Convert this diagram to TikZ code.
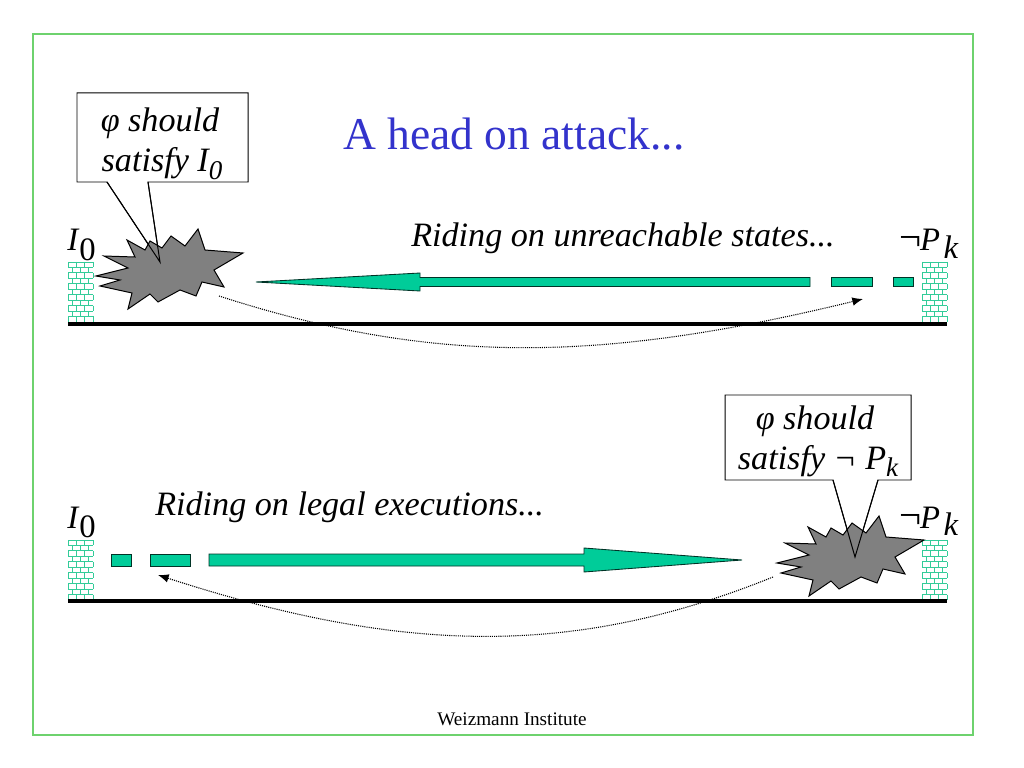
\documentclass[tikz,border=0pt]{standalone}
\usepackage{fontspec}
\setmainfont{Liberation Serif}
\usetikzlibrary{arrows.meta}
\definecolor{arrowteal}{RGB}{0,204,153}
\definecolor{brickteal}{RGB}{51,204,153}
\definecolor{framegreen}{RGB}{110,210,110}
\definecolor{titleblue}{RGB}{51,51,204}
\definecolor{burstgray}{RGB}{128,128,128}
\tikzset{
  brickline/.style={brickteal, line width=0.6pt},
  groundline/.style={black, line width=2.6pt},
  bigarrow/.style={fill=arrowteal, draw=black!75!arrowteal, line width=0.6pt, line join=miter},
  burstshape/.style={fill=burstgray, draw=black, line width=0.7pt, line join=miter, miter limit=20},
  calloutshape/.style={fill=white, draw=black, line width=0.7pt, line join=miter},
  tailline/.style={draw=black, line width=0.7pt},
  dotcurve/.style={black, line width=0.75pt, dash pattern=on 0.75pt off 0.75pt},
  titletxt/.style={inner sep=0pt, anchor=base west, text=titleblue, font=\fontsize{32}{38}\selectfont},
  ridetxt/.style={inner sep=0pt, anchor=base west, font=\fontsize{24}{28}\selectfont\itshape},
  calltxt/.style={inner sep=0pt, anchor=base, font=\fontsize{24}{28}\selectfont\itshape},
  lbl/.style={inner sep=0pt, anchor=base west, font=\fontsize{23}{26}\selectfont},
  foottxt/.style={inner sep=0pt, anchor=base, font=\fontsize{13.5}{16}\selectfont}
}
\newcommand\mybrickwall[2]{%
  \begin{scope}[shift={(#1,#2)}]
    \foreach \r in {0,...,11} \draw[brickline] (0,\r*5.45) -- (25,\r*5.45);
    \foreach \r in {0,2,...,10} \foreach \xx in {0,8.3,16.7,25} \draw[brickline] (\xx,\r*5.45) -- (\xx,\r*5.45+5.45);
    \foreach \r in {1,3,...,9} \foreach \xx in {4.2,12.5,20.8} \draw[brickline] (\xx,\r*5.45) -- (\xx,\r*5.45+5.45);
  \end{scope}}
\newcommand\myburst[2]{%
  \draw[burstshape, shift={(#1,#2)}] (96,276) -- (128,268) -- (104,256) -- (135,257) -- (127,240) -- (145,250) -- (150,241) -- (162,248) -- (171,236) -- (185,246) -- (198,229) -- (205,250) -- (243,253) -- (214,270) -- (224,287) -- (202,282) -- (196,296) -- (180,290) -- (158,302) -- (150,294) -- (128,309) -- (132,293) -- (100,286) -- (120,280) -- cycle;}
\newcommand\mypk{\scalebox{1.2}{¬}\kern-1pt\textit{P}\kern2.5pt\raisebox{-5pt}{\textit{k}}}
\begin{document}
\begin{tikzpicture}[x=0.703125pt, y=-0.703125pt]
\useasboundingbox (0,0) rectangle (1024,768);
\fill[white] (0,0) rectangle (1024,768);
% frame
\draw[framegreen, line width=0.8pt] (33,34) rectangle (973,735);

% title
\node[titletxt] (title) at (343,150) {A head on attack...};

% ---------- top scene ----------
\mybrickwall{68}{262}
\mybrickwall{922}{262}
\coordinate (g1a) at (68,324);
\coordinate (g1b) at (947,324);
\draw[groundline] (g1a) -- (g1b);

\node[ridetxt] (ride1) at (411,247) {Riding on unreachable states...};
\node[lbl] (i0top) at (67,251) {\textit{I}\raisebox{-7pt}{0}};
\node[lbl] (pktop) at (899,251) {\mypk};

% arrow pointing left
\draw[bigarrow] (256,282) -- (420,273) -- (420,277.5) -- (810,277.5) -- (810,286.5) -- (420,286.5) -- (420,291) -- cycle;
\draw[bigarrow] (831,277.5) rectangle (872,286.5);
\draw[bigarrow] (893,277.5) rectangle (913,286.5);

% dotted curve
\coordinate (d1s) at (219,296);
\coordinate (d1e) at (863,299);
\draw[dotcurve, -{Latex[length=7.5pt, width=6pt]}] (d1s) .. controls (430,364) and (596,364) .. (d1e);

% callout + burst
\coordinate (t1a) at (107,182);
\coordinate (t1b) at (148,182);
\coordinate (t1tip) at (160,262);
\draw[calloutshape] (77,93) -- (248,93) -- (248,182) -- (t1b) -- (t1tip) -- (t1a) -- (77,182) -- cycle;
\myburst{0}{0}
\draw[tailline] (t1a) -- (t1tip) -- (t1b);
\node[calltxt] (c1l1) at (160,132) {φ should};
\node[calltxt] (c1l2) at (162,172) {satisfy \textit{I}\raisebox{-5pt}{\fontsize{19}{19}\selectfont\textit{0}}};

% ---------- bottom scene ----------
\mybrickwall{68}{540}
\mybrickwall{922}{540}
\coordinate (g2a) at (68,601);
\coordinate (g2b) at (947,601);
\draw[groundline] (g2a) -- (g2b);

\node[ridetxt] (ride2) at (155,515) {Riding on legal executions...};
\node[lbl] (i0bot) at (67,528) {\textit{I}\raisebox{-7pt}{0}};
\node[lbl] (pkbot) at (899,528) {\mypk};

% arrow pointing right
\draw[bigarrow] (111,554) rectangle (131,566);
\draw[bigarrow] (150,554) rectangle (190,566);
\draw[bigarrow] (209,554) -- (584,554) -- (584,548) -- (742,560) -- (584,572) -- (584,566) -- (209,566) -- cycle;

% dotted curve
\coordinate (d2s) at (773,577);
\coordinate (d2e) at (158,575);
\draw[dotcurve, -{Latex[length=7.5pt, width=6pt]}] (d2s) .. controls (577,656) and (408,656) .. (d2e);

% callout + burst
\coordinate (t2a) at (833,480);
\coordinate (t2b) at (878,480);
\coordinate (t2tip) at (855,557);
\draw[calloutshape] (725,395) -- (911,395) -- (911,480) -- (t2b) -- (t2tip) -- (t2a) -- (725,480) -- cycle;
\myburst{681}{287}
\draw[tailline] (t2a) -- (t2tip) -- (t2b);
\node[calltxt] (c2l1) at (815,429) {φ should};
\node[calltxt] (c2l2) at (818,469) {satisfy ¬ \textit{P}\raisebox{-5pt}{\fontsize{19}{19}\selectfont\textit{k}}};

% footer
\node[foottxt] (foot) at (512,725) {Weizmann Institute};
\end{tikzpicture}
\end{document}
